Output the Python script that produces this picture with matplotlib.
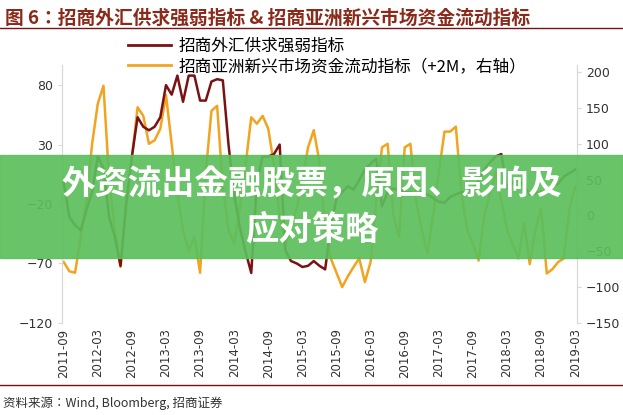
import matplotlib
matplotlib.use("Agg")
import os
import matplotlib.pyplot as plt
import numpy as np
import pandas as pd
from matplotlib.patches import Rectangle
from matplotlib.lines import Line2D
from matplotlib.font_manager import FontProperties

def font(weight, size):
    p = "/usr/share/fonts/opentype/noto/NotoSansCJK-%s.ttc" % ("Bold" if weight == "bold" else "Regular")
    if os.path.exists(p):
        return FontProperties(fname=p, size=size)
    return FontProperties(family="Noto Sans CJK SC", weight=weight, size=size)

dates = pd.date_range("2011-09-01", periods=91, freq="MS")
fx_index = [-2, -31, -38, -42, -25, -10, 20, 10, -31, -48, -72, -20, 20, 53, 45, 42, 45, 53, 80, 72,
            88, 66, 88, 88, 67, 67, 83, 85, 84, 30, -12, -40, -60, -78, -2, 20, 20, 22, 30, -59,
            -68, -70, -73, -72, -68, -72, -75, -40, -15, -10, -5, -8, 0, 9, 14, 18, -22, -10, -7, -8,
            -10, -10, -12, -10, -12, -15, -18, -19, -14, -12, -10, -10, -7, 0, 9, 15, 20, 22, -7, -2,
            1, -5, -12, -11, -10, -8, -5, -3, 3, 6, 9]
flow_index = [-65, -78, -80, -30, 20, 100, 156, 181, 50, -20, -72, 20, 80, 151, 139, 100, 105, 121, 168, 100,
              30, -20, -50, -30, -80, 60, 146, 153, 40, -20, -40, 10, 70, 137, 128, 139, 121, 70, 0, -40,
              -20, 10, 50, 95, 119, 75, -20, -60, -80, -100, -85, -72, -60, -93, -65, 20, 95, 100, 0, -30,
              95, 100, 20, -20, -53, 0, 60, 117, 117, 124, 30, -20, -40, -63, 0, 30, 60, 20, -20, -40,
              -60, -10, -68, -20, 10, -81, -75, -65, -60, 10, 40]
tick_labels = [d.strftime("%Y-%m") for d in dates[::6]]
left_ticks = [80, 30, -20, -70, -120]
right_ticks = [200, 150, 100, 50, 0, -50, -100, -150]
legend_labels = ["招商外汇供求强弱指标", "招商亚洲新兴市场资金流动指标（+2M，右轴）"]

RED = "#7a1214"
ORANGE = "#f2a320"

fig = plt.figure(figsize=(6.23, 4.15), dpi=100)
ax = fig.add_axes([0.0995, 0.222, 0.8265, 0.621])
ax2 = ax.twinx()
x = np.arange(len(dates))
ax.plot(x, fx_index, color=RED, lw=1.8, zorder=3)
ax2.plot(x, flow_index, color=ORANGE, lw=1.8)
ax.set_zorder(ax2.get_zorder() + 1)
ax.patch.set_visible(False)
ax.set_ylim(-120, 96.8)
ax2.set_ylim(-150, 209.8)
ax.set_xlim(-0.3, 90.3)
ax.set_yticks(left_ticks)
ax2.set_yticks(right_ticks)
ax.set_xticks(x[::6])
ax.set_xticklabels(tick_labels, rotation=90, fontsize=8.5)
for a in (ax, ax2):
    for s in ("top", "bottom"):
        a.spines[s].set_visible(False)
    for s in ("left", "right"):
        a.spines[s].set_color("#d9d9d9")
    a.tick_params(axis="y", labelsize=9, colors="#333333", length=3, color="#d9d9d9")
ax.tick_params(axis="x", length=0, colors="#333333", pad=4)

handles = [Line2D([], [], color=RED, lw=2), Line2D([], [], color=ORANGE, lw=2)]
fig.legend(handles, legend_labels, loc="upper left", bbox_to_anchor=(0.195, 0.925),
           frameon=False, prop=font("normal", 12), handlelength=2.6,
           handletextpad=0.4, labelspacing=0.2, borderaxespad=0)

fig.text(0.008, 0.978, "图 6：招商外汇供求强弱指标 & 招商亚洲新兴市场资金流动指标",
         fontproperties=font("bold", 13.5), color="#8b2a1a", va="top")
fig.add_artist(Line2D([0, 1], [0.933, 0.933], color="#7a1214", lw=1))
fig.add_artist(Line2D([0, 1], [0.072, 0.072], color="#7a1214", lw=1))
fig.text(0.005, 0.028, "资料来源：Wind, Bloomberg, 招商证券", fontproperties=font("normal", 9),
         color="#333333", va="center")

fig.add_artist(Rectangle((0, 0.378), 1, 0.249, transform=fig.transFigure,
                         color="#5cbf5c", alpha=0.92, zorder=10))
fig.text(0.5, 0.555, "外资流出金融股票，原因、影响及", fontproperties=font("bold", 24),
         color="white", ha="center", va="center", zorder=11)
fig.text(0.5, 0.445, "应对策略", fontproperties=font("bold", 24),
         color="white", ha="center", va="center", zorder=11)
fig.savefig("out.png", dpi=100)
